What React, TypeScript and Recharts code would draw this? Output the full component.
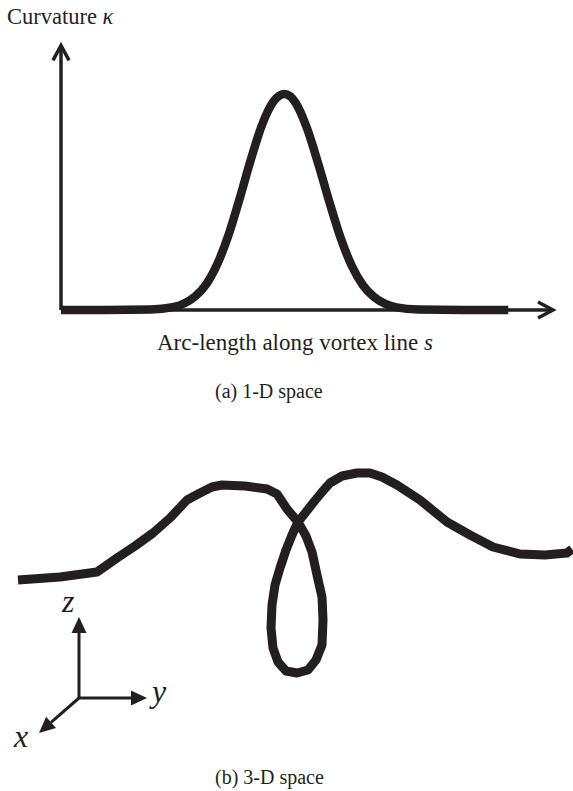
import { LineChart, Line, XAxis, YAxis, ReferenceLine } from 'recharts'

const INK = '#231f20'
const SERIF = '"Liberation Serif", "Times New Roman", serif'

// (a) curvature along the arc length of the vortex line
const arcLength = [0, 1, 2, 2.5, 2.75, 3, 3.25, 3.5, 3.75, 4, 4.25, 4.5, 4.75, 5, 5.25, 5.5, 5.75, 6, 6.25, 6.5, 6.75, 7, 7.25, 7.5, 8, 9, 10]
const curvature = [0, 0, 0.002, 0.013, 0.03, 0.063, 0.12, 0.215, 0.35, 0.52, 0.7, 0.86, 0.965, 1, 0.958, 0.841, 0.678, 0.5, 0.335, 0.205, 0.115, 0.06, 0.028, 0.012, 0.002, 0, 0]

// (b) the same vortex line seen in the y-z plane, with its loop
const lineY = [
  -6.1, -1.9, 1.8, 3.8, 5.6, 7.4, 9.1, 10.8, 12.1, 13.3, 14.3, 16.6, 18.8, 19.8, 20.8, 21.9,
  22.7, 23.3, 23.8, 24.3, 24.4, 24.3, 23.7, 22.9, 21.8, 20.7, 19.9, 19.4, 19.2, 19.3, 19.6,
  20.1, 20.7, 21.3, 21.9, 22.7, 23.4, 24.3, 25.1, 26.3, 27.8, 29.1, 30.3, 31.8, 34.1, 36.8,
  39.1, 41.4, 44.1, 46.6, 48.8, 49.3,
]
const lineZ = [
  11.8, 12.1, 12.6, 14.0, 15.2, 16.5, 18.0, 19.8, 20.5, 21.1, 21.3, 21.2, 20.9, 20.4, 18.9, 17.6,
  16.2, 14.6, 12.3, 10.1, 7.8, 5.3, 3.8, 2.8, 2.5, 2.7, 3.6, 5.0, 7.0, 9.3, 11.3,
  13.0, 14.8, 16.3, 17.6, 18.6, 19.5, 20.6, 21.5, 22.2, 22.5, 22.5, 22.1, 21.3, 19.8, 17.6,
  16.3, 15.1, 14.4, 14.3, 14.5, 14.9,
]

// coordinate triad at the origin of the y-z view
const triad = [
  { name: 'z', tip: { x: 0, y: 8.1 } },
  { name: 'y', tip: { x: 6.8, y: 0 } },
  { name: 'x', tip: { x: -4, y: -3.5 } },
]

const profile = arcLength.map((s, i) => ({ s, k: curvature[i] }))
const vortex = lineY.map((y, i) => ({ y, z: lineZ[i] }))

function head(x1: number, y1: number, x2: number, y2: number, len: number, half: number) {
  const a = Math.atan2(y2 - y1, x2 - x1)
  const bx = x2 - len * Math.cos(a)
  const by = y2 - len * Math.sin(a)
  const px = -Math.sin(a) * half
  const py = Math.cos(a) * half
  return { bx, by, pts: `${bx + px},${by + py} ${x2},${y2} ${bx - px},${by - py}` }
}

// axis with an open chevron at the end
function OpenArrow(props: any) {
  const { x1, y1, x2, y2 } = props
  const h = head(x1, y1, x2, y2, 15, 8)
  return (
    <g>
      <line x1={x1} y1={y1} x2={x2} y2={y2} stroke={INK} strokeWidth={3.5} />
      <polyline points={h.pts} fill="none" stroke={INK} strokeWidth={3.5} />
    </g>
  )
}

// axis with a solid triangular head
function SolidArrow(props: any) {
  const { x1, y1, x2, y2 } = props
  const h = head(x1, y1, x2, y2, 16, 7.5)
  return (
    <g>
      <line x1={x1} y1={y1} x2={h.bx} y2={h.by} stroke={INK} strokeWidth={3} />
      <polygon points={h.pts} fill={INK} />
    </g>
  )
}

const text = (size: number, italic = false): React.CSSProperties => ({
  position: 'absolute',
  fontFamily: SERIF,
  fontSize: size,
  lineHeight: 1,
  fontStyle: italic ? 'italic' : 'normal',
  color: INK,
  whiteSpace: 'nowrap',
})

export default function App() {
  return (
    <div style={{ position: 'absolute', left: 0, top: 0, width: 573, height: 791, background: '#fff', overflow: 'hidden' }}>
      <div style={{ position: 'absolute', left: 0, top: 0 }}>
        <LineChart width={573} height={330} data={profile} margin={{ top: 40, right: 20, bottom: 20, left: 61 }}>
          <XAxis dataKey="s" type="number" domain={[0, 11]} hide />
          <YAxis type="number" domain={[0, 1.25]} hide />
          <ReferenceLine segment={[{ x: 0, y: 0 }, { x: 0, y: 1.225 }]} shape={OpenArrow} />
          <ReferenceLine segment={[{ x: 0, y: 0 }, { x: 11, y: 0 }]} shape={OpenArrow} />
          <Line
            dataKey="k"
            type="monotone"
            stroke={INK}
            strokeWidth={8.5}
            dot={false}
            activeDot={false}
            isAnimationActive={false}
          />
        </LineChart>
      </div>

      <div style={{ position: 'absolute', left: 0, top: 440 }}>
        <LineChart width={573} height={320} data={vortex} margin={{ top: 0, right: 0, bottom: 0, left: 0 }}>
          <XAxis dataKey="y" type="number" domain={[-7.9, 49.4]} hide allowDataOverflow />
          <YAxis type="number" domain={[-6.2, 25.8]} hide allowDataOverflow />
          {triad.map((t) => (
            <ReferenceLine key={t.name} segment={[{ x: 0, y: 0 }, t.tip]} shape={SolidArrow} />
          ))}
          <Line
            dataKey="z"
            type="linear"
            stroke={INK}
            strokeWidth={9}
            strokeLinejoin="round"
            strokeLinecap="butt"
            dot={false}
            activeDot={false}
            isAnimationActive={false}
          />
        </LineChart>
      </div>

      <div style={{ ...text(22.5), left: 7, top: 6 }}>
        Curvature <span style={{ fontStyle: 'italic' }}>κ</span>
      </div>
      <div style={{ ...text(23), left: 157, top: 331 }}>
        Arc-length along vortex line <span style={{ fontStyle: 'italic' }}>s</span>
      </div>
      <div style={{ ...text(20), left: 215, top: 381 }}>(a) 1-D space</div>

      <div style={{ ...text(32, true), left: 62, top: 585 }}>z</div>
      <div style={{ ...text(32, true), left: 152, top: 675 }}>y</div>
      <div style={{ ...text(32, true), left: 14, top: 720 }}>x</div>
      <div style={{ ...text(20), left: 215, top: 767 }}>(b) 3-D space</div>
    </div>
  )
}
